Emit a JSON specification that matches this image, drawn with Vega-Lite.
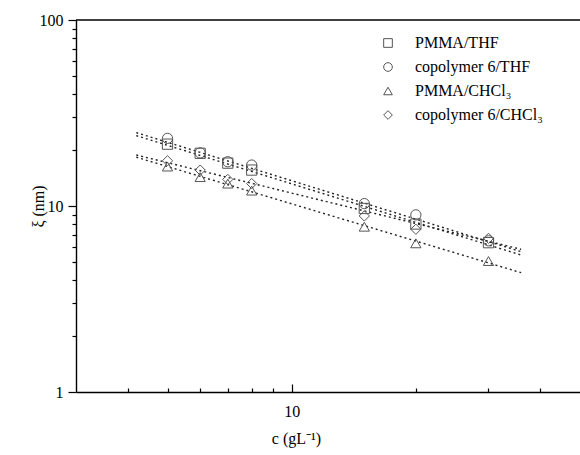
{
  "$schema": "https://vega.github.io/schema/vega-lite/v6.json",
  "width": 504,
  "height": 372,
  "autosize": {"type": "none"},
  "padding": {"left": 76, "top": 20, "right": 0, "bottom": 63},
  "background": "white",
  "config": {
    "view": {"stroke": null},
    "font": "Liberation Serif",
    "axis": {
      "domainColor": "#000",
      "domainWidth": 1.4,
      "tickColor": "#000",
      "tickWidth": 1.2,
      "grid": false,
      "labelFont": "Liberation Serif",
      "labelFontSize": 16,
      "labelColor": "#000",
      "titleFont": "Liberation Serif",
      "titleFontSize": 16,
      "titleFontWeight": "normal",
      "titleColor": "#000"
    }
  },
  "datasets": {
    "points": [
      {"series": "PMMA/THF", "c": 5, "xi": 21.5},
      {"series": "PMMA/THF", "c": 6, "xi": 19.2},
      {"series": "PMMA/THF", "c": 7, "xi": 17.0},
      {"series": "PMMA/THF", "c": 8, "xi": 15.6},
      {"series": "PMMA/THF", "c": 15, "xi": 9.7},
      {"series": "PMMA/THF", "c": 20, "xi": 8.0},
      {"series": "PMMA/THF", "c": 30, "xi": 6.35},
      {"series": "copolymer 6/THF", "c": 5, "xi": 23.1},
      {"series": "copolymer 6/THF", "c": 6, "xi": 19.3},
      {"series": "copolymer 6/THF", "c": 7, "xi": 17.3},
      {"series": "copolymer 6/THF", "c": 8, "xi": 16.6},
      {"series": "copolymer 6/THF", "c": 15, "xi": 10.3},
      {"series": "copolymer 6/THF", "c": 20, "xi": 8.96},
      {"series": "copolymer 6/THF", "c": 30, "xi": 6.5},
      {"series": "PMMA/CHCl₃", "c": 5, "xi": 16.3},
      {"series": "PMMA/CHCl₃", "c": 6, "xi": 14.3},
      {"series": "PMMA/CHCl₃", "c": 7, "xi": 13.2},
      {"series": "PMMA/CHCl₃", "c": 8, "xi": 12.1},
      {"series": "PMMA/CHCl₃", "c": 15, "xi": 7.74},
      {"series": "PMMA/CHCl₃", "c": 20, "xi": 6.3},
      {"series": "PMMA/CHCl₃", "c": 30, "xi": 5.06},
      {"series": "copolymer 6/CHCl₃", "c": 5, "xi": 17.5},
      {"series": "copolymer 6/CHCl₃", "c": 6, "xi": 15.6},
      {"series": "copolymer 6/CHCl₃", "c": 7, "xi": 13.9},
      {"series": "copolymer 6/CHCl₃", "c": 8, "xi": 13.2},
      {"series": "copolymer 6/CHCl₃", "c": 15, "xi": 8.84},
      {"series": "copolymer 6/CHCl₃", "c": 20, "xi": 7.5},
      {"series": "copolymer 6/CHCl₃", "c": 30, "xi": 6.7}
    ],
    "fits": [
      {"series": "PMMA/THF", "c": 4.2, "xi": 23.9},
      {"series": "PMMA/THF", "c": 36, "xi": 5.45},
      {"series": "copolymer 6/THF", "c": 4.2, "xi": 24.8},
      {"series": "copolymer 6/THF", "c": 36, "xi": 5.68},
      {"series": "PMMA/CHCl₃", "c": 4.2, "xi": 18.3},
      {"series": "PMMA/CHCl₃", "c": 36, "xi": 4.38},
      {"series": "copolymer 6/CHCl₃", "c": 4.2, "xi": 18.8},
      {"series": "copolymer 6/CHCl₃", "c": 36, "xi": 5.85}
    ],
    "frame": [{"xi": 100}]
  },
  "layer": [
    {
      "data": {"name": "frame"},
      "mark": {"type": "rule", "color": "#000", "strokeWidth": 1.4},
      "encoding": {
        "y": {"field": "xi", "type": "quantitative", "scale": {"type": "log", "domain": [1, 100], "nice": false}}
      }
    },
    {
      "data": {"name": "fits"},
      "mark": {"type": "line", "color": "#222", "strokeWidth": 1.4, "strokeDash": [2, 3]},
      "encoding": {
        "x": {"field": "c", "type": "quantitative"},
        "y": {"field": "xi", "type": "quantitative"},
        "detail": {"field": "series"}
      }
    },
    {
      "data": {"name": "points"},
      "mark": {"type": "point", "filled": false, "color": "#555", "strokeWidth": 1, "size": 105, "opacity": 1},
      "encoding": {
        "x": {
          "field": "c",
          "type": "quantitative",
          "scale": {"type": "log", "domain": [3, 50], "nice": false},
          "axis": {
            "values": [4, 5, 6, 7, 8, 9, 10, 20, 30, 40],
            "tickSize": {"condition": {"test": "datum.value === 10", "value": -8}, "value": -4},
            "labelExpr": "datum.value === 10 ? '10' : ''",
            "labelPadding": 19,
            "labelBaseline": "top",
            "labelFlush": false,
            "title": "c (gL⁻¹)",
            "titleX": 220,
            "titleY": 46,
            "titleBaseline": "middle",
            "titleAnchor": null
          }
        },
        "y": {
          "field": "xi",
          "type": "quantitative",
          "scale": {"type": "log", "domain": [1, 100], "nice": false},
          "axis": {
            "values": [1, 2, 3, 4, 5, 6, 7, 8, 9, 10, 20, 30, 40, 50, 60, 70, 80, 90, 100],
            "tickSize": {"condition": {"test": "datum.value === 1 || datum.value === 10 || datum.value === 100", "value": 8}, "value": 4},
            "labelExpr": "(datum.value === 1 || datum.value === 10 || datum.value === 100) ? datum.label : ''",
            "labelPadding": 5,
            "labelBaseline": "middle",
            "labelFlush": false,
            "title": "ξ (nm)",
            "titleX": -38,
            "titleY": 186,
            "titleAngle": -90,
            "titleBaseline": "middle",
            "titleAlign": "center"
          }
        },
        "shape": {
          "field": "series",
          "type": "nominal",
          "scale": {
            "domain": ["PMMA/THF", "copolymer 6/THF", "PMMA/CHCl₃", "copolymer 6/CHCl₃"],
            "range": ["square", "circle", "triangle-up", "diamond"]
          },
          "legend": {
            "title": null,
            "orient": "none",
            "legendX": 304,
            "legendY": 15,
            "padding": 0,
            "labelFont": "Liberation Serif",
            "labelFontSize": 16,
            "labelColor": "#000",
            "labelOffset": 19,
            "rowPadding": 8,
            "symbolSize": 75,
            "symbolStrokeColor": "#555",
            "symbolStrokeWidth": 1,
            "symbolFillColor": "transparent"
          }
        }
      }
    }
  ]
}
